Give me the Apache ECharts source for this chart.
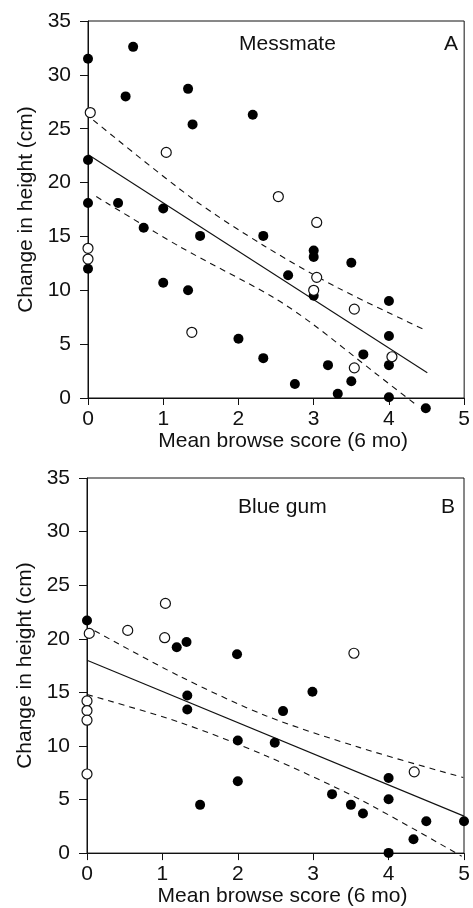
<!DOCTYPE html>
<html>
<head>
<meta charset="utf-8">
<script src="https://cdn.jsdelivr.net/npm/echarts@6/dist/echarts.min.js"></script>
<style>
html, body { margin: 0; padding: 0; background: #fff; }
#chart { width: 473px; height: 908px; }
</style>
</head>
<body>
<div id="chart"></div>
<script>
// panel A - Messmate: [browse score, change in height]
var messFilled = [[0, 31.5], [0.6, 32.6], [0.5, 28.0], [1.33, 28.7], [1.39, 25.4], [2.19, 26.3],
  [0, 22.1], [0, 18.1], [0.4, 18.1], [1.0, 17.6], [0.74, 15.8], [1.49, 15.05], [2.33, 15.05],
  [0, 12.0], [1.0, 10.7], [1.33, 10.0], [2.66, 11.4], [3.0, 13.7], [3.0, 13.1], [3.0, 9.5],
  [3.5, 12.55], [4.0, 9.0], [4.0, 5.75], [2.0, 5.5], [2.33, 3.7], [2.75, 1.3], [3.19, 3.05],
  [3.32, 0.4], [3.5, 1.55], [3.66, 4.05], [4.0, 3.05], [4.0, 0.07], [4.49, -0.95]];
var messOpen = [[0.03, 26.5], [1.04, 22.8], [2.53, 18.7], [3.04, 16.3], [0, 13.9], [0, 12.9],
  [3.04, 11.2], [3.0, 10.0], [1.38, 6.1], [3.54, 8.25], [3.54, 2.8], [4.04, 3.83]];
var messFit = [[0, 22.6], [4.51, 2.35]];
var messUpper = [[0.07, 25.8], [1.39, 18.5], [2.36, 14.05], [3.33, 10.2], [4.5, 6.25]];
var messLower = [[0.11, 18.7], [1.22, 14.05], [2.45, 9.4], [2.98, 6.9], [3.82, 2.3], [4.35, -0.56]];

// panel B - Blue gum
var gumFilled = [[0, 21.7], [1.19, 19.2], [1.32, 19.7], [1.99, 18.55], [1.33, 14.7], [1.33, 13.4],
  [2.99, 15.05], [2.6, 13.25], [2.0, 10.5], [2.49, 10.3], [2.0, 6.7], [1.5, 4.5], [3.25, 5.5],
  [3.5, 4.5], [3.66, 3.7], [4.0, 7.0], [4.0, 5.03], [4.0, 0.02], [4.33, 1.3], [4.5, 2.98], [5.0, 2.98]];
var gumOpen = [[0.03, 20.5], [0.54, 20.78], [1.04, 23.3], [1.03, 20.1], [3.54, 18.65],
  [0, 14.2], [0, 13.3], [0, 12.4], [0, 7.38], [4.34, 7.58]];
var gumFit = [[0, 18.0], [5, 3.45]];
var gumUpper = [[0.1, 20.75], [1.23, 16.5], [2.38, 12.8], [3.62, 9.84], [4.99, 7.05]];
var gumLower = [[0.0, 14.8], [1.23, 12.2], [2.38, 9.06], [3.62, 5.0], [4.97, -0.3]];

var xTicks = [0, 1, 2, 3, 4, 5];
var yTicks = [0, 5, 10, 15, 20, 25, 30, 35];

var ink = '#111';
var font = 'Liberation Sans, Arial, sans-serif';

function xAx(idx, gap) {
  return {
    type: 'value', gridIndex: idx, min: xTicks[0], max: xTicks[xTicks.length - 1], interval: 1,
    name: 'Mean browse score (6 mo)', nameLocation: 'middle', nameGap: gap,
    nameTextStyle: { color: ink, fontSize: 21, fontFamily: font, padding: [0, 0, 0, 14] },
    axisLine: { onZero: false, lineStyle: { color: ink, width: 1 } },
    axisTick: { show: true, length: 7, inside: false, lineStyle: { color: ink } },
    axisLabel: { color: ink, fontSize: 21, fontFamily: font, margin: 11 },
    splitLine: { show: false }
  };
}

function yAx(idx) {
  return {
    type: 'value', gridIndex: idx, min: yTicks[0], max: yTicks[yTicks.length - 1], interval: 5,
    name: 'Change in height (cm)', nameLocation: 'middle', nameGap: 50,
    nameTextStyle: { color: ink, fontSize: 21, fontFamily: font },
    axisLine: { onZero: false, lineStyle: { color: ink, width: 1 } },
    axisTick: { show: true, length: 8, inside: false, lineStyle: { color: ink } },
    axisLabel: { color: ink, fontSize: 21, fontFamily: font, margin: 17 },
    splitLine: { show: false }
  };
}

function pts(data, idx, open) {
  return {
    type: 'scatter', xAxisIndex: idx, yAxisIndex: idx, data: data, clip: false, z: 5,
    symbol: 'circle', symbolSize: 10,
    itemStyle: open
      ? { color: '#fff', borderColor: ink, borderWidth: 1.2, opacity: 1 }
      : { color: '#000', borderWidth: 0, opacity: 1 }
  };
}

function line(data, idx, dashed) {
  return {
    type: 'line', xAxisIndex: idx, yAxisIndex: idx, data: data, clip: false, z: 3,
    symbol: 'none', smooth: dashed ? 0.3 : false, silent: true,
    lineStyle: { color: ink, width: 1.1, type: dashed ? [6, 5] : 'solid' }
  };
}

var chart = echarts.init(document.getElementById('chart'), null, { renderer: 'canvas' });
var option = {
  backgroundColor: '#fff',
  animation: false,
  textStyle: { fontFamily: font },
  title: [
    { text: 'Messmate', left: 234, top: 29, textStyle: { color: ink, fontSize: 21, fontWeight: 'normal', fontFamily: font } },
    { text: 'A', left: 439, top: 29, textStyle: { color: ink, fontSize: 21, fontWeight: 'normal', fontFamily: font } },
    { text: 'Blue gum', left: 233, top: 492, textStyle: { color: ink, fontSize: 21, fontWeight: 'normal', fontFamily: font } },
    { text: 'B', left: 436, top: 492, textStyle: { color: ink, fontSize: 21, fontWeight: 'normal', fontFamily: font } }
  ],
  grid: [
    { left: 88, top: 21, width: 378, height: 377, show: true, borderColor: ink, borderWidth: 1, backgroundColor: 'transparent' },
    { left: 87, top: 478, width: 377, height: 376, show: true, borderColor: ink, borderWidth: 1, backgroundColor: 'transparent' }
  ],
  xAxis: [xAx(0, 33), xAx(1, 23)],
  yAxis: [yAx(0), yAx(1)],
  series: [
    line(messFit, 0, false), line(messUpper, 0, true), line(messLower, 0, true),
    pts(messFilled, 0, false), pts(messOpen, 0, true),
    line(gumFit, 1, false), line(gumUpper, 1, true), line(gumLower, 1, true),
    pts(gumFilled, 1, false), pts(gumOpen, 1, true)
  ]
};
chart.setOption(option);
</script>
</body>
</html>
